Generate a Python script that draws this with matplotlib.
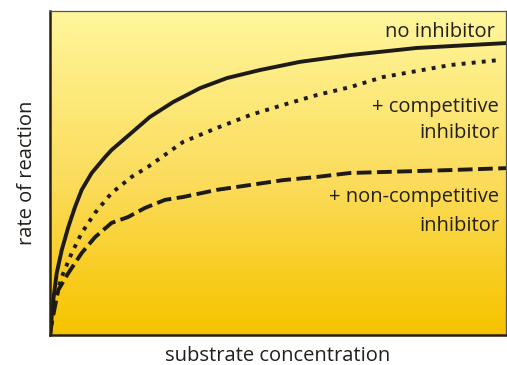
import matplotlib
matplotlib.use("Agg")
import matplotlib.pyplot as plt
import numpy as np
from matplotlib.colors import LinearSegmentedColormap

plt.rcParams['font.family'] = ['Open Sans', 'DejaVu Sans']

# substrate concentration vs rate (arbitrary units, 0-100)
x_none = [0, 0.72, 1.47, 2.57, 4.01, 5.48, 6.95, 9.14, 12.06, 13.5, 21.9, 27.0,
          32.9, 38.8, 46.1, 54.8, 65.8, 80.5, 100]
y_none = [0, 10.8, 19.1, 26.2, 33.3, 39.5, 44.8, 50.0, 54.9, 57.1, 67.3, 71.9,
          76.2, 79.3, 81.8, 84.3, 86.4, 88.6, 90.1]

x_comp = [0, 1.1, 2.57, 4.76, 6.95, 9.87, 13.5, 17.9, 21.5, 24.5, 29.2, 36.6,
          43.9, 51.1, 58.6, 65.8, 73.0, 87.7, 98.7]
y_comp = [0, 10.8, 17.9, 25.3, 31.5, 37.7, 43.8, 48.8, 51.9, 54.9, 59.6, 63.9,
          67.9, 71.0, 74.1, 76.5, 79.6, 83.3, 84.9]

x_noncomp = [0, 0.37, 1.82, 4.01, 6.95, 9.87, 13.5, 17.1, 20.8, 25.2, 29.2, 36.6,
             43.9, 51.1, 58.6, 65.8, 73.0, 87.7, 100]
y_noncomp = [0, 3.7, 13.9, 19.1, 25.3, 30.2, 34.6, 36.4, 39.2, 41.7, 42.6, 44.8,
             46.3, 47.8, 48.8, 50.0, 50.3, 50.9, 51.5]

fig = plt.figure(figsize=(5.07, 3.65), dpi=100)
ax = fig.add_axes([50/507, 30/365, 456/507, 324/365])

# yellow background, pale at the top, golden at the bottom
cmap = LinearSegmentedColormap.from_list(
    "bg", [(0.0, "#f5c300"), (0.15, "#f8cb18"), (0.45, "#fbdb58"), (1.0, "#fff69c")])
grad = np.linspace(0, 1, 256).reshape(-1, 1)
ax.imshow(grad, cmap=cmap, origin="lower", aspect="auto",
          extent=[0, 100, 0, 100], zorder=0)

ink = "#1e1a16"
ax.plot(x_none, y_none, color=ink, lw=2.8, ls="-", solid_joinstyle="round", zorder=2)
ax.plot(x_comp, y_comp, color=ink, lw=2.8, ls=(0, (1.0, 1.6)), zorder=2)
ax.plot(x_noncomp, y_noncomp, color=ink, lw=2.8, ls=(0, (3.8, 1.4)), zorder=2)

ax.set_xlim(0, 100)
ax.set_ylim(0, 100)
ax.set_xticks([])
ax.set_yticks([])

for side in ["left", "bottom"]:
    ax.spines[side].set_color("#2a2010")
    ax.spines[side].set_linewidth(1.8)
for side in ["top", "right"]:
    ax.spines[side].set_color("#555555")
    ax.spines[side].set_linewidth(0.9)

txt = dict(fontsize=14.5, color="#231f1c", ha="right", va="center")
ax.text(97.5, 93.5, "no inhibitor", **txt)
ax.text(98.5, 70.5, "+ competitive", **txt)
ax.text(98.5, 62.2, "inhibitor", **txt)
ax.text(98.5, 42.5, "+ non-competitive", **txt)
ax.text(98.5, 33.5, "inhibitor", **txt)

ax.set_xlabel("substrate concentration", fontsize=14.5, color="#231f1c", labelpad=8)
ax.set_ylabel("rate of reaction", fontsize=14.5, color="#231f1c", labelpad=9)

fig.savefig("out.png", dpi=100, facecolor="white")
